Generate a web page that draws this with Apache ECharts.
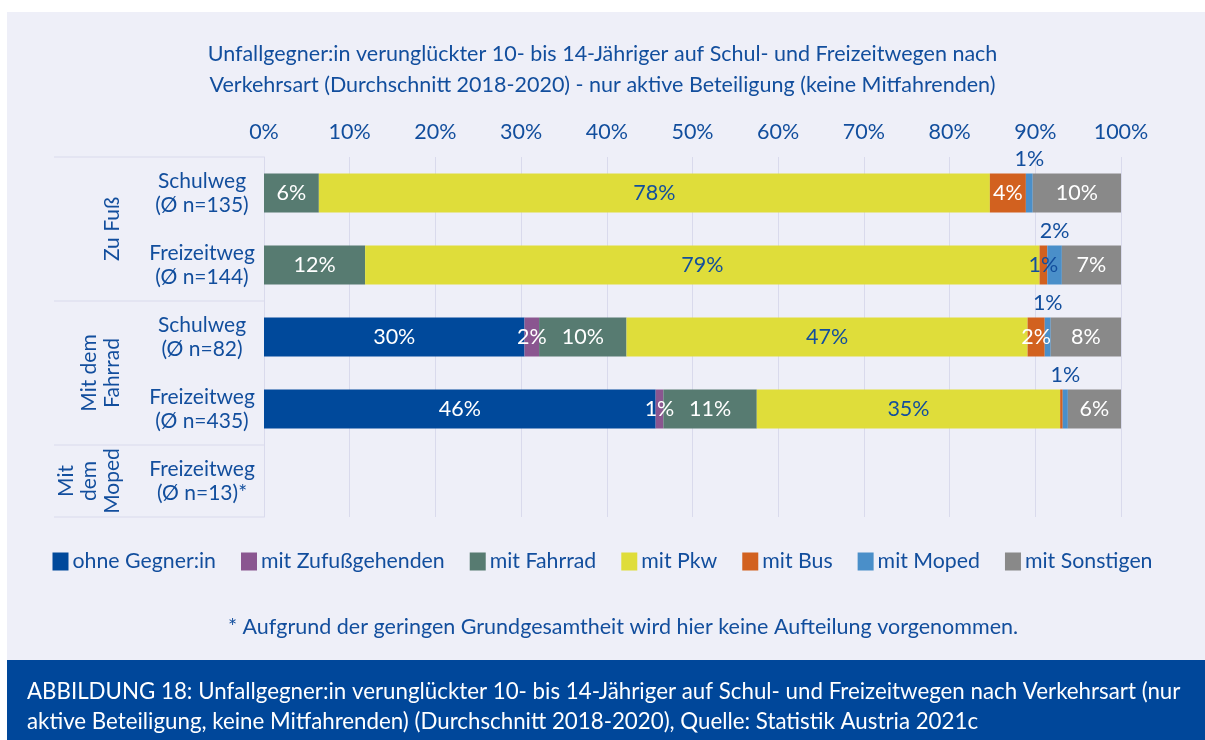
<!DOCTYPE html>
<html>
<head>
<meta charset="utf-8">
<script src="https://cdn.jsdelivr.net/npm/echarts@6/dist/echarts.min.js"></script>
<style>
  html, body { margin: 0; padding: 0; background: #fff; }
  #chart { width: 1205px; height: 740px; }
</style>
</head>
<body>
<div id="chart"></div>
<script>
// Zeilen (von oben nach unten) und Gruppen links
const categories = [
  'Schulweg\n(Ø n=135)',
  'Freizeitweg\n(Ø n=144)',
  'Schulweg\n(Ø n=82)',
  'Freizeitweg\n(Ø n=435)',
  'Freizeitweg\n(Ø n=13)*'
];
const groupNames = ['Zu Fuß', 'Mit dem\nFahrrad', 'Mit\ndem\nMoped'];
const groupSizes = [2, 2, 1];

// Anteile in % (Moped-Zeile ohne Aufteilung)
const ohneGegner = [0, 0, 30.4, 45.7, null];
const mitZufuss = [0, 0, 1.7, 0.9, null];
const mitFahrrad = [6.4, 11.8, 10.2, 10.9, null];
const mitPkw = [78.3, 78.7, 46.8, 35.4, null];
const mitBus = [4.2, 0.9, 2.0, 0.3, null];
const mitMoped = [0.8, 1.7, 0.7, 0.6, null];
const mitSonstigen = [10.3, 6.9, 8.2, 6.2, null];

const xTicks = [0, 10, 20, 30, 40, 50, 60, 70, 80, 90, 100];

const titleText = 'Unfallgegner:in verunglückter 10- bis 14-Jähriger auf Schul- und Freizeitwegen nach\n' +
  'Verkehrsart (Durchschnitt 2018-2020) - nur aktive Beteiligung (keine Mitfahrenden)';
const footnote = '* Aufgrund der geringen Grundgesamtheit wird hier keine Aufteilung vorgenommen.';
const caption = 'ABBILDUNG 18: Unfallgegner:in verunglückter 10- bis 14-Jähriger auf Schul- und Freizeitwegen nach Verkehrsart (nur\n' +
  'aktive Beteiligung, keine Mitfahrenden) (Durchschnitt 2018-2020), Quelle: Statistik Austria 2021c';

const TXT = '#124e9d';
const FONT = 'Lato';
const LINE = '#d9daec';

function pct(p) {
  const r = Math.round(p.value);
  return r >= 1 ? r + '%' : '';
}

function mkSeries(name, data, color, labelColor) {
  return {
    name: name,
    type: 'bar',
    stack: 'total',
    barWidth: 39,
    data: data,
    itemStyle: { color: color },
    label: {
      show: true,
      position: 'inside',
      formatter: pct,
      color: labelColor,
      fontSize: 21.5,
      fontFamily: FONT
    }
  };
}

// schmale Bus-Segmente: Beschriftung blau, da sie auf den Nachbarfarben liegt
const busData = mitBus.map(v => (v != null && v < 1.5) ? { value: v, label: { color: TXT } } : v);

const option = {
  backgroundColor: '#eeeff8',
  textStyle: { fontFamily: FONT },
  title: {
    text: titleText,
    left: 'center',
    top: 34,
    textStyle: { fontSize: 21.5, lineHeight: 31, color: TXT, fontWeight: 'normal', fontFamily: FONT }
  },
  legend: {
    top: 546,
    left: 'center',
    icon: 'rect',
    itemWidth: 16,
    itemHeight: 18,
    itemGap: 25,
    textStyle: { fontSize: 21.3, color: TXT, fontFamily: FONT, padding: [0, 0, 0, -1] },
    data: ['ohne Gegner:in', 'mit Zufußgehenden', 'mit Fahrrad', 'mit Pkw', 'mit Bus', 'mit Moped', 'mit Sonstigen']
  },
  grid: { left: 264, right: 84, top: 157, height: 360, outerBoundsMode: 'none' },
  xAxis: {
    type: 'value',
    position: 'top',
    min: xTicks[0],
    max: xTicks[xTicks.length - 1],
    interval: 10,
    axisLine: { show: false },
    axisTick: { show: false },
    axisLabel: { formatter: '{value}%', fontSize: 21.5, color: TXT, margin: 14, fontFamily: FONT },
    splitLine: { lineStyle: { color: LINE, width: 1 } }
  },
  yAxis: {
    type: 'category',
    inverse: true,
    data: categories,
    axisLine: { show: true, lineStyle: { color: LINE, width: 1 } },
    axisTick: { show: false },
    axisLabel: { fontSize: 21, lineHeight: 24, color: TXT, align: 'center', margin: 62, fontFamily: FONT }
  },
  series: [
    mkSeries('ohne Gegner:in', ohneGegner, '#00499b', '#fff'),
    mkSeries('mit Zufußgehenden', mitZufuss, '#8a5690', '#fff'),
    mkSeries('mit Fahrrad', mitFahrrad, '#577b71', '#fff'),
    mkSeries('mit Pkw', mitPkw, '#dfdd3a', TXT),
    mkSeries('mit Bus', busData, '#d2611f', '#fff'),
    mkSeries('mit Moped', mitMoped, '#4a8fc9', TXT),
    mkSeries('mit Sonstigen', mitSonstigen, '#898989', '#fff')
  ]
};
option.series[5].label.position = 'top';
option.series[5].label.distance = 3;

const chart = echarts.init(document.getElementById('chart'));
chart.setOption(option);

// Gruppenrahmen links aus der Achsenlage berechnen
const c0 = chart.convertToPixel({ yAxisIndex: 0 }, 0);
const c1 = chart.convertToPixel({ yAxisIndex: 0 }, 1);
const band = c1 - c0;
const axisX = chart.convertToPixel({ xAxisIndex: 0 }, 0);
const graphics = [
  { type: 'rect', shape: { x: 0, y: 0, width: 7, height: 740 }, style: { fill: '#fff' } },
  { type: 'rect', shape: { x: 0, y: 0, width: 1205, height: 12 }, style: { fill: '#fff' } }
];
let start = 0;
const topY = c0 - band / 2;
graphics.push({ type: 'line', shape: { x1: 54, y1: topY, x2: axisX, y2: topY }, style: { stroke: LINE, lineWidth: 1 } });
groupNames.forEach((g, i) => {
  const y0 = c0 + (start - 0.5) * band;
  const y1 = c0 + (start + groupSizes[i] - 0.5) * band;
  graphics.push({ type: 'line', shape: { x1: 54, y1: y1, x2: axisX, y2: y1 }, style: { stroke: LINE, lineWidth: 1 } });
  graphics.push({
    type: 'text', x: 124, y: (y0 + y1) / 2, rotation: Math.PI / 2,
    style: { text: g, fill: TXT, font: '21px ' + FONT, lineHeight: 23, textAlign: 'center', textVerticalAlign: 'bottom' }
  });
  start += groupSizes[i];
});
graphics.push({
  type: 'text', x: 623, y: 627,
  style: { text: footnote, fill: TXT, font: '21.5px ' + FONT, textAlign: 'center', textVerticalAlign: 'middle' }
});
graphics.push({ type: 'rect', shape: { x: 7, y: 660, width: 1198, height: 80 }, style: { fill: '#00479a' } });
graphics.push({
  type: 'text', x: 27, y: 677,
  style: { text: caption, fill: '#fff', font: '22.3px ' + FONT, lineHeight: 30, textVerticalAlign: 'top' }
});
chart.setOption({ graphic: graphics });
</script>
</body>
</html>
